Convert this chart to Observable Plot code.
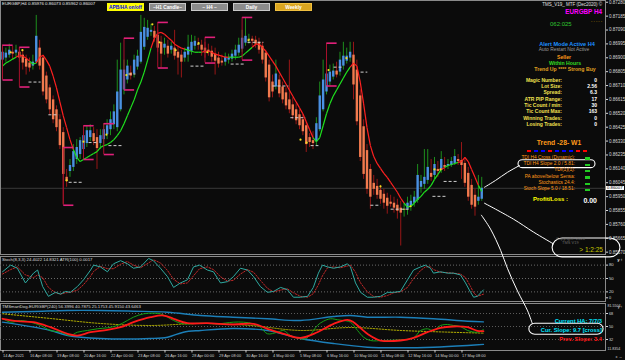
<!DOCTYPE html>
<html><head><meta charset="utf-8">
<script src="https://cdn.jsdelivr.net/npm/d3@7"></script>
<script src="https://cdn.jsdelivr.net/npm/@observablehq/plot@0.6"></script>
<style>
html,body{margin:0;padding:0;background:#000;}
#wrap{position:relative;width:625px;height:360px;overflow:hidden;background:#0b0b0b;font-family:"Liberation Sans",Arial,sans-serif;}
.t{position:absolute;white-space:nowrap;line-height:1;}
.btn{position:absolute;height:8px;box-sizing:border-box;font-weight:bold;font-size:4.8px;line-height:7px;text-align:center;color:#fff;}
</style></head><body><div id="wrap"></div>
<script>
// ================= DATA =================
const priceTicks=[0.87280,0.87185,0.87090,0.86995,0.86900,0.86805,0.86710,0.86615,0.86520,0.86425,0.86330,0.86235,0.86140,0.86045,0.85950,0.85855,0.85760,0.85665,0.85570];
const dateTickIdx=[0,8,16,24,32,40,48,56,64,72,80,88,96,104,112,120,128,136];
const dateLabels=["14 Apr 2021","16 Apr 08:00","19 Apr 08:00","20 Apr 16:00","22 Apr 00:00","23 Apr 08:00","26 Apr 16:00","28 Apr 00:00","29 Apr 08:00","30 Apr 16:00","4 May 00:00","5 May 08:00","6 May 16:00","10 May 00:00","11 May 08:00","12 May 16:00","14 May 00:00","17 May 08:00"];
const lastPrice=0.86007;

const open=[0.86884,0.86898,0.86918,0.86938,0.86932,0.86938,0.86918,0.86891,0.86864,0.86843,
0.86870,0.86966,0.86898,0.86775,0.86694,0.86612,0.86544,0.86476,0.86388,0.86082,
0.86122,0.86150,0.86204,0.86238,0.86272,0.86313,0.86354,0.86381,0.86354,0.86313,
0.86340,0.86374,0.86408,0.86442,0.86422,0.86544,0.86680,0.86748,0.86796,0.86789,
0.86836,0.86870,0.86972,0.87040,0.87074,0.87081,0.87054,0.87006,0.86966,0.86979,
0.86952,0.86966,0.86938,0.86918,0.86898,0.86918,0.86945,0.86979,0.86993,0.86986,
0.86966,0.86952,0.86945,0.86925,0.86898,0.86877,0.86870,0.86884,0.86891,0.86911,
0.86932,0.86959,0.87000,0.87020,0.87027,0.87020,0.87006,0.86979,0.86932,0.86850,
0.86734,0.86700,0.86748,0.86700,0.86660,0.86612,0.86578,0.86544,0.86510,0.86476,
0.86435,0.86354,0.86333,0.86326,0.86408,0.86544,0.86666,0.86734,0.86768,0.86809,
0.86802,0.86843,0.86877,0.86898,0.86918,0.86816,0.86639,0.86428,0.86265,0.86136,
0.86041,0.86020,0.85993,0.85966,0.85939,0.85912,0.85905,0.85891,0.85871,0.85857,
0.85864,0.85884,0.85905,0.85925,0.86014,0.86034,0.86061,0.86109,0.86095,0.86136,
0.86129,0.86163,0.86156,0.86163,0.86177,0.86204,0.86197,0.86177,0.86109,0.86027,
0.85959,0.85918,0.85932];
const close=[0.86938,0.86932,0.86952,0.86925,0.86952,0.86898,0.86864,0.86836,0.86830,0.86870,
0.87047,0.86843,0.86666,0.86612,0.86544,0.86476,0.86422,0.86299,0.86102,0.86054,
0.86163,0.86258,0.86286,0.86333,0.86367,0.86401,0.86401,0.86326,0.86279,0.86367,
0.86408,0.86435,0.86476,0.86530,0.86666,0.86816,0.86816,0.86843,0.86775,0.86884,
0.86911,0.87074,0.87108,0.87102,0.87088,0.87034,0.86966,0.86925,0.86993,0.86925,
0.86979,0.86911,0.86898,0.86870,0.86938,0.86972,0.87006,0.87013,0.86986,0.86952,
0.86932,0.86938,0.86904,0.86877,0.86857,0.86864,0.86904,0.86898,0.86925,0.86952,
0.86986,0.87034,0.87047,0.87027,0.87013,0.86993,0.86952,0.86884,0.86762,0.86626,
0.86666,0.86789,0.86653,0.86612,0.86571,0.86544,0.86503,0.86469,0.86435,0.86394,
0.86306,0.86320,0.86313,0.86449,0.86639,0.86748,0.86789,0.86802,0.86809,0.86782,
0.86884,0.86911,0.86911,0.86938,0.86714,0.86462,0.86218,0.86102,0.86000,0.85946,
0.86000,0.85959,0.85932,0.85905,0.85884,0.85898,0.85871,0.85850,0.85837,0.85864,
0.85905,0.85918,0.85946,0.86095,0.86054,0.86082,0.86150,0.86082,0.86170,0.86122,
0.86204,0.86150,0.86170,0.86190,0.86224,0.86190,0.86163,0.86041,0.85946,0.85891,
0.85878,0.85946,0.86007];
const high=[0.86986,0.86966,0.86993,0.86979,0.86986,0.86966,0.86952,0.86918,0.86898,0.86918,
0.87190,0.87020,0.86918,0.86802,0.86714,0.86639,0.86571,0.86510,0.86422,0.86136,
0.86204,0.86306,0.86340,0.86354,0.86422,0.86435,0.86442,0.86422,0.86408,0.86408,
0.86449,0.86476,0.86530,0.86578,0.86884,0.87000,0.86884,0.86884,0.86843,0.86918,
0.86952,0.87190,0.87170,0.87156,0.87129,0.87115,0.87088,0.87047,0.87034,0.87020,
0.87006,0.87088,0.86979,0.86952,0.86966,0.87054,0.87054,0.87047,0.87034,0.87020,
0.87006,0.86993,0.86979,0.86966,0.86938,0.86918,0.86932,0.86925,0.86952,0.86986,
0.87034,0.87088,0.87176,0.87061,0.87047,0.87047,0.87034,0.87006,0.86952,0.86884,
0.86782,0.86884,0.86782,0.86734,0.86694,0.86884,0.86626,0.86585,0.86544,0.86510,
0.86462,0.86381,0.86394,0.86490,0.86734,0.86884,0.86870,0.86850,0.86857,0.86870,
0.86938,0.87006,0.86966,0.87006,0.87006,0.86884,0.86680,0.86476,0.86306,0.86170,
0.86095,0.86068,0.86027,0.86000,0.85973,0.85959,0.85946,0.85932,0.85918,0.85905,
0.85946,0.85959,0.85986,0.86170,0.86095,0.86272,0.86272,0.86204,0.86218,0.86190,
0.86258,0.86218,0.86204,0.86218,0.86272,0.86238,0.86320,0.86218,0.86150,0.86068,
0.86000,0.86095,0.86082];
const low=[0.86850,0.86870,0.86898,0.86884,0.86904,0.86870,0.86816,0.86782,0.86802,0.86816,
0.86857,0.86816,0.86639,0.86585,0.86510,0.86449,0.86394,0.86272,0.85898,0.86014,
0.86082,0.86122,0.86170,0.86204,0.86258,0.86286,0.86326,0.86299,0.86136,0.86272,
0.86306,0.86340,0.86367,0.86408,0.86394,0.86530,0.86646,0.86721,0.86748,0.86762,
0.86816,0.86857,0.86952,0.87020,0.87047,0.87006,0.86938,0.86830,0.86918,0.86898,
0.86925,0.86884,0.86782,0.86762,0.86870,0.86870,0.86918,0.86952,0.86952,0.86911,
0.86898,0.86911,0.86870,0.86782,0.86830,0.86843,0.86843,0.86857,0.86870,0.86884,
0.86911,0.86938,0.86979,0.86993,0.86979,0.86966,0.86925,0.86857,0.86734,0.86598,
0.86626,0.86680,0.86626,0.86585,0.86544,0.86517,0.86476,0.86442,0.86408,0.86367,
0.86252,0.86286,0.86272,0.86299,0.86394,0.86530,0.86646,0.86707,0.86748,0.86762,
0.86775,0.86816,0.86857,0.86870,0.86612,0.86435,0.86190,0.86068,0.85966,0.85864,
0.85959,0.85932,0.85898,0.85864,0.85830,0.85878,0.85837,0.85796,0.85612,0.85810,
0.85823,0.85850,0.85878,0.85905,0.85973,0.86000,0.86034,0.86054,0.86068,0.86082,
0.86109,0.86122,0.86136,0.86150,0.86163,0.86163,0.86068,0.86014,0.85918,0.85864,
0.85816,0.85891,0.85918];
const haLine=[0.86843,0.86864,0.86877,0.86891,0.86904,0.86918,0.86911,0.86898,0.86877,0.86857,
0.86864,0.86904,0.86918,0.86884,0.86843,0.86775,0.86694,0.86598,0.86503,0.86422,
0.86340,0.86272,0.86218,0.86190,0.86204,0.86218,0.86231,0.86245,0.86258,0.86286,
0.86299,0.86306,0.86320,0.86340,0.86367,0.86401,0.86449,0.86503,0.86558,0.86612,
0.86680,0.86734,0.86802,0.86884,0.86966,0.87034,0.87068,0.87074,0.87061,0.87040,
0.87020,0.86993,0.86979,0.86966,0.86959,0.86952,0.86945,0.86938,0.86938,0.86938,
0.86945,0.86945,0.86938,0.86925,0.86918,0.86911,0.86904,0.86904,0.86904,0.86904,
0.86904,0.86911,0.86932,0.86952,0.86972,0.86993,0.86993,0.86972,0.86945,0.86911,
0.86877,0.86843,0.86802,0.86762,0.86721,0.86680,0.86639,0.86598,0.86558,0.86517,
0.86462,0.86408,0.86354,0.86326,0.86354,0.86435,0.86517,0.86585,0.86639,0.86680,
0.86721,0.86762,0.86802,0.86836,0.86864,0.86843,0.86734,0.86585,0.86422,0.86299,
0.86224,0.86177,0.86143,0.86109,0.86082,0.86048,0.86014,0.85980,0.85939,0.85905,
0.85878,0.85884,0.85905,0.85932,0.85952,0.85980,0.86000,0.86027,0.86068,0.86102,
0.86136,0.86150,0.86163,0.86170,0.86177,0.86184,0.86190,0.86218,0.86190,0.86136,
0.86082,0.86027,0.85986];

// signal brackets, level dashes, dots
const bracketIdx=[0,5,18,24,30,36,46,60,71,96];
const bracketHi=[0.86986,0.86972,0.86286,0.86435,0.86449,0.87034,0.87142,0.87040,0.87176,0.87000];
const bracketLo=[0.86748,0.86700,0.85891,0.86204,0.86238,0.86680,0.86830,0.86864,0.86884,0.86707];
const dashX1=[7.7,13.6,19.6,25.5,31.4,37.3,55.7,67.6,72.6,80,85.3,91.3,98.1,106.1,109,115,127.4,130.7];
const dashX2=[11.3,16.6,23.7,28.4,35.6,39.4,59.6,72,77.3,84.7,89.8,93.6,101,108.1,112,120.9,131.3,134.8];
const dashP=[0.86734,0.86510,0.86048,0.86320,0.86299,0.86789,0.86843,0.86857,0.87006,0.86707,0.86490,0.86299,0.86836,0.86802,0.85891,0.85864,0.85952,0.86054];
const dotX=[2.4,5.9,19,24,30.8,36.7,44.4,46.5,51.3,58.1,60.7,72.9,88.3,90.1,96.6,101.9,112,120.9,128,129.8];
const dotP=[0.86938,0.86952,0.86061,0.86326,0.86374,0.86782,0.87129,0.87006,0.86952,0.87000,0.86938,0.87020,0.86340,0.86320,0.86816,0.86898,0.86020,0.85884,0.86136,0.86136];

// hand-drawn annotations (bar index, price)
const link1X=[142.8,146.1,149.6,153.2], link1P=[0.86014,0.86061,0.86116,0.86163];
const link2X=[142.8,151.4,157.3,163.3], link2P=[0.85905,0.85796,0.85708,0.85626];
const link3X=[141.9,144.6,147.6,149.6,152.6,155.6,157], link3P=[0.85823,0.85728,0.85582,0.85460,0.85304,0.85168,0.85080];
const ringX1=[152.9,163,156.1], ringX2=[175.7,183.1,178.1], ringP1=[0.86199,0.85663,0.85080], ringP2=[0.86145,0.85534,0.85005];

// Stochastic (8,3,3)
const stochIdx=[0,2.4,4.4,6.8,9.2,10.4,11.9,13.6,15.7,17.2,18.7,20.1,22.2,24,26.1,27,29,31.1,32.9,35,37,38.8,40.9,43.3,44.7,46.8,48.9,50.7,52.7,54.8,56.6,58.4,60.7,62.5,64.6,66.7,68.4,70.5,72.6,74.4,76.4,78.5,80.3,82.4,84.4,86.2,88.3,90.4,92.1,93.6,94.8,96.3,98.1,100.1,102.2,103.1,104.6,106.1,108.1,109.9,112,114.1,115.9,117.9,120,121.8,123.9,125.3,126.8,127.7,129.8,131.9,133.6,135.7,137.2,138.7,139.6,140.7,142.5];
const stochMain=[65,80,73,40,62,69,32,10,19,15,21,19,32,47,69,80,76,65,83,90,83,73,76,95,90,73,54,30,40,47,76,80,69,65,40,43,54,73,69,54,32,19,21,30,25,8,8,10,30,62,80,76,73,76,83,76,40,19,8,8,10,19,19,21,47,69,76,80,73,62,65,62,62,58,40,19,8,10,24.4];
const stochSignal=[60,70,76,58,52,58,52,30,18,15,18,19,24,36,55,66,77,72,72,82,88,80,74,85,92,85,68,48,38,40,56,72,76,70,54,44,46,60,70,64,46,28,20,24,27,18,10,8,16,36,56,74,76,74,78,80,64,40,20,10,8,12,18,20,30,50,68,76,76,70,64,63,62,60,52,32,18,10,14.8];
const stochLevels=[80,50,20];
const stochTicks=[80,50,20];

// TMSmartDog
const tmsGreenIdx=[0,2.4,5.3,8.3,11.3,14.2,17.2,20.1,22.2,25.2,28.1,31.1,34.1,37,38.8,41.8,44.7,46.8,48.9,50.7,53.6,58.7,63.7,68.4,71.4,74.4,76.4,78.5,81.5,83.3,85.3,88.3,89.8,91.3,93.3,95.1,97.2,99.3,101,103.1,105.2,107,109,112.9,117.9,121.8,123.9,125.9,127.7,129.8,131.9,133.6,135.7,137.8,140.7,142.5];
const tmsGreen=[61.1,56.0,58.3,56.0,51.4,44.5,42.1,37.5,42.1,44.5,46.8,48.2,51.4,58.3,62.9,67.6,68.4,67.6,62.9,58.3,53.7,54.6,53.7,56.0,56.0,53.7,49.0,39.9,42.1,44.5,37.5,33.0,33.0,39.0,51.4,57.3,60.7,59.3,58.3,56.0,44.5,35.2,30.6,30.6,31.6,34.3,44.5,46.8,44.5,51.4,52.8,51.4,50.0,44.5,42.1,45.9];
const tmsRedIdx=[0,4.4,9.2,14.2,19.3,22.2,26.1,31.1,35,38.8,43.9,47.7,50.7,54.8,60.7,68.4,74.4,78.5,83.3,88.3,93.3,98.1,102.2,104,108.1,112,117.9,121.8,125.9,129.8,133.6,137.8,140.7,142.5];
const tmsRed=[60.7,57.3,56.0,49.0,39.9,37.5,42.1,45.4,49.0,56.0,62.9,65.2,60.7,54.6,54.6,52.8,53.7,46.8,39.9,34.3,42.1,53.7,59.3,56.0,39.9,30.6,30.6,34.3,42.1,48.2,50.0,49.0,44.0,43.6];
const tmsUpperIdx=[0,9.2,19.3,29,38.8,48.9,58.7,68.4,78.5,88.3,98.1,103.1,108.1,117.9,127.7,137.8,142.5];
const tmsUpper=[69.8,70.8,72.2,72.2,71.2,69.8,65.2,62.9,60.7,58.3,63.8,65.2,62.9,62.9,60.7,57.3,56.4];
const tmsLowerIdx=[0,14.2,19.3,29,43.9,48.9,53.6,58.7,68.4,78.5,88.3,98.1,108.1,117.9,127.7,137.8,142.5];
const tmsLower=[56.0,44.5,37.5,33.4,33.4,35.2,42.1,44.5,47.2,44.5,33.4,26.4,21.3,20.5,21.3,23.7,25.2];
const tmsMidIdx=[0,14.2,29,43.9,58.7,73.5,88.3,103.1,117.9,132.7,142.5];
const tmsMid=[67.6,61.1,54.2,51.4,54.2,51.4,44.5,48.6,44.5,42.1,40.8];
const tmsLevels=[68,50,32];
const tmsMax="81.5504", tmsMin="11.8354";

// ================= BUILD =================
const wrap=document.getElementById("wrap");
const FONT="'Liberation Sans',Arial,sans-serif";
const X={domain:[-0.593,178.67],range:[0,605]};
const bars=open.map((o,i)=>({i,o,c:close[i],h:high[i],l:low[i]}));
const bodyCol=d=>Math.abs(d.c-d.o)<0.00008?"#d8c850":(d.c>d.o?"#4a90e2":"#f27a4e");
const wickCol=d=>d.c>=d.o?"#1f9e1f":"#a81818";
const maSeg=d3.range(haLine.length-1).map(i=>({x1:i,y1:haLine[i],x2:i+1,y2:haLine[i+1],
  col: close[i+1]>haLine[i+1]?"#1fe01f":"#ff2020"}));
const br=bracketIdx.map((x,k)=>({x,hi:bracketHi[k],lo:bracketLo[k]}));
const dashes=dashX1.map((x,k)=>({x1:x,x2:dashX2[k],p:dashP[k]}));
const dots=dotX.map((x,k)=>({x,p:dotP[k]}));
const toPts=(xs,ys)=>xs.map((x,k)=>({x,y:ys[k]}));

function place(svg,top,z){svg.style.position="absolute";svg.style.top=top+"px";svg.style.left="0px";svg.style.zIndex=z;wrap.appendChild(svg);return svg;}

const ringMark=(k,r)=>Plot.rect([k],{x1:d=>ringX1[d],x2:d=>ringX2[d],y1:d=>ringP1[d],y2:d=>ringP2[d],rx:r,fill:"none",stroke:"#fff",strokeWidth:1.1});

const main=Plot.plot({
  width:625,height:254,marginLeft:0,marginRight:20,marginTop:0,marginBottom:0,
  style:{background:"transparent",overflow:"visible",fontFamily:FONT},
  x:{...X,axis:null},
  y:{domain:[0.85554,0.87292],range:[254,0],axis:null},
  marks:[
    Plot.ruleY([lastPrice],{stroke:"#3a3a3a"}),
    Plot.ruleX(bars,{x:"i",y1:"l",y2:"h",stroke:wickCol,strokeWidth:0.9}),
    Plot.ruleX(bars,{x:"i",y1:"o",y2:d=>Math.abs(d.c-d.o)<0.00004?d.o+0.00006:d.c,stroke:bodyCol,strokeWidth:2.4}),
    Plot.link(maSeg,{x1:"x1",y1:"y1",x2:"x2",y2:"y2",stroke:"col",strokeWidth:1.2}),
    Plot.ruleX(br,{x:"x",y1:"lo",y2:"hi",stroke:"#a8102c",strokeWidth:1}),
    Plot.link(br,{x1:"x",x2:d=>d.x+3,y1:"hi",y2:"hi",stroke:"#e0207a",strokeWidth:1.6}),
    Plot.link(br,{x1:"x",x2:d=>d.x+3,y1:"lo",y2:"lo",stroke:"#e0207a",strokeWidth:1.6}),
    Plot.link(dashes,{x1:"x1",x2:"x2",y1:"p",y2:"p",stroke:"#d0d0d0",strokeWidth:1,strokeDasharray:"3,2"}),
    Plot.dot(dots,{x:"x",y:"p",r:1.1,fill:"#f0e020",stroke:null}),
    Plot.frame({stroke:"#8a8a8a"}),
    Plot.axisY(priceTicks,{anchor:"right",tickSize:2,tickPadding:1.5,fontSize:4.5,color:"#d8d8d8",tickFormat:d=>d.toFixed(5)}),
    Plot.line(toPts(link1X,link1P),{x:"x",y:"y",curve:"catmull-rom",stroke:"#fff",strokeWidth:1}),
    Plot.line(toPts(link2X,link2P),{x:"x",y:"y",curve:"catmull-rom",stroke:"#fff",strokeWidth:1}),
    Plot.line(toPts(link3X,link3P),{x:"x",y:"y",curve:"catmull-rom",stroke:"#fff",strokeWidth:1}),
    ringMark(0,4),ringMark(1,10),ringMark(2,6)
  ]
});
place(main,0,3);

const stoch=Plot.plot({
  width:625,height:47,marginLeft:0,marginRight:20,marginTop:1,marginBottom:1,
  style:{background:"transparent",overflow:"visible",fontFamily:FONT},
  x:{...X,axis:null},
  y:{domain:[0,100],range:[45.3,0.7],axis:null},
  marks:[
    Plot.frame({stroke:"#8a8a8a"}),
    Plot.ruleY(stochLevels,{stroke:"#6a6a6a",strokeDasharray:"1,2"}),
    Plot.line(toPts(stochIdx,stochSignal),{x:"x",y:"y",stroke:"#c02828",strokeWidth:1,strokeDasharray:"1.5,1.5"}),
    Plot.line(toPts(stochIdx,stochMain),{x:"x",y:"y",stroke:"#2fa9a0",strokeWidth:1}),
    Plot.axisY(stochTicks,{anchor:"right",tickSize:2,tickPadding:1.5,fontSize:4.2,color:"#d8d8d8"}),
    Plot.axisY([0],{anchor:"right",tickSize:2,tickPadding:1.5,fontSize:3.8,color:"#d8d8d8",dy:-3})
  ]
});
place(stoch,255,1);

const tms=Plot.plot({
  width:625,height:58,marginLeft:0,marginRight:20,marginTop:1,marginBottom:10,
  style:{background:"transparent",overflow:"visible",fontFamily:FONT},
  x:{...X,axis:null},
  y:{domain:[32,68],range:[37,11],axis:null},
  marks:[
    Plot.frame({stroke:"#8a8a8a"}),
    Plot.ruleY(tmsLevels,{stroke:"#5a5a5a",strokeDasharray:"1,2"}),
    Plot.line(toPts(tmsUpperIdx,tmsUpper),{x:"x",y:"y",curve:"catmull-rom",stroke:"#1c7fb8",strokeWidth:1.4}),
    Plot.line(toPts(tmsLowerIdx,tmsLower),{x:"x",y:"y",curve:"catmull-rom",stroke:"#1c7fb8",strokeWidth:1.4}),
    Plot.line(toPts(tmsMidIdx,tmsMid),{x:"x",y:"y",curve:"catmull-rom",stroke:"#c8c400",strokeWidth:0.9,strokeDasharray:"1.5,1.5"}),
    Plot.line(toPts(tmsGreenIdx,tmsGreen),{x:"x",y:"y",curve:"catmull-rom",stroke:"#16a016",strokeWidth:1}),
    Plot.line(toPts(tmsRedIdx,tmsRed),{x:"x",y:"y",curve:"catmull-rom",stroke:"#ff1a1a",strokeWidth:1.8}),
    Plot.axisY(tmsLevels,{anchor:"right",tickSize:2,tickPadding:1.5,fontSize:3.8,color:"#d8d8d8"}),
    Plot.text([tmsMax],{frameAnchor:"top-right",lineAnchor:"top",textAnchor:"start",dx:2,dy:1,fontSize:3.6,fill:"#d8d8d8"}),
    Plot.text([tmsMin],{frameAnchor:"bottom-right",lineAnchor:"bottom",textAnchor:"start",dx:2,dy:-0.5,fontSize:3.6,fill:"#d8d8d8"}),
    Plot.axisX(dateTickIdx,{anchor:"bottom",tickSize:2.5,tickPadding:1.5,fontSize:3.9,color:"#d0d0d0",textAnchor:"start",dx:0.5,tickFormat:d=>dateLabels[dateTickIdx.indexOf(d)]})
  ]
});
place(tms,302,1);

// ================= TEXT OVERLAY =================
function T(txt,x,y,o={}){
  const d=document.createElement("div");d.className="t";d.textContent=txt;
  d.style.fontSize=(o.s||5)+"px";d.style.color=o.c||"#ddd";d.style.fontWeight=o.b?"bold":"normal";
  d.style.top=y+"px";d.style.zIndex=5;
  if(o.a==="end"){d.style.right=(625-x)+"px";}
  else if(o.a==="middle"){d.style.left=x+"px";d.style.transform="translateX(-50%)";}
  else d.style.left=x+"px";
  wrap.appendChild(d);return d;
}
function B(txt,x,w,bg,fg,border){
  const d=document.createElement("div");d.className="btn";d.textContent=txt;
  Object.assign(d.style,{left:x+"px",top:"2.5px",width:w+"px",background:bg,color:fg,border:"1px solid "+border,zIndex:5});
  wrap.appendChild(d);
}
T("EURGBP,H4  0.85976 0.86073 0.85962 0.86007",2,2,{s:4.4,c:"#e8e8e8"});
B("APB/HA on/off",107,37,"#ffff00","#0000ff","#ffff00");
B("~H1 Candle~",149,37,"#8c8c8c","#fff","#c8c8c8");
B("~ H4 ~",191,37,"#8c8c8c","#fff","#c8c8c8");
B("Daily",233,37,"#8c8c8c","#fff","#c8c8c8");
B("Weekly",275,37,"#daa520","#fff","#f0c040");

T("TMS_V19_ MTF (Dec2020) ©",602,2.5,{s:4.5,c:"#e0e0e0",a:"end"});
T("EURGBP H4",602,9,{s:6.3,c:"#ff00ff",b:1,a:"end"});
T("062:025",550,20.5,{s:6,c:"#2fc42f"});
T("- - - - -",591,18.5,{s:4,c:"#e0c000"});
T("Alert Mode Active H4",567,41.5,{s:5.6,c:"#1e90ff",b:1,a:"middle"});
T("Auto Restart Not Active",564,48,{s:4.9,c:"#9a9a9a",a:"middle"});
T("Seller",564,54.5,{s:5.2,c:"#ff9a1a",b:1,a:"middle"});
T("Within Hours",565,60.5,{s:5.2,c:"#33dd22",b:1,a:"middle"});
T("Trend Up **** Strong Buy",565,66.5,{s:5.2,c:"#e0a020",b:1,a:"middle"});
const statL=["Magic Number:","Lot Size:","Spread:","ATR PIP Range:","Tic Count / min:","Tic Count Max:","Winning Trades:","Losing Trades:"];
const statV=["0","2.56","6.3","17","30","163","0","0"];
statL.forEach((s,k)=>{T(s,562,77.5+k*6.35,{s:5,c:"#f0e050",b:1,a:"end"});T(statV[k],597,77.5+k*6.35,{s:5,c:"#fff",b:1,a:"end"});});
T("Trend -28- W1",559,139.5,{s:6.8,c:"#ff9a1a",b:1,a:"middle"});
const trendCols=["#ff0000","#0000ff","#0000ff","#ff0000","#0000ff","#0000ff","#0000ff","#ff0000","#ff0000"];
trendCols.forEach((c,k)=>{const d=document.createElement("div");Object.assign(d.style,{position:"absolute",left:(527+k*7)+"px",top:"149.5px",width:"4px",height:"2px",background:c,zIndex:5});wrap.appendChild(d);});
const indL=["TDI H4 Cross (Dynamic):","TDI H4 Slope 2.0 / 5.81:","TDI(1)(1):","PA above/below Sensa:","Stochastics 24.4:","Stoch Slope 5.0 / 18.51:"];
indL.forEach((s,k)=>{T(s,575,155.8+k*6.3,{s:4.8,c:"#ff9a1a",a:"end"});
  const d=document.createElement("div");Object.assign(d.style,{position:"absolute",left:"585px",top:(157.3+k*6.3)+"px",width:"5px",height:"2.5px",background:"#22cc22",zIndex:5});wrap.appendChild(d);});
T("Profit/Loss :",533,196,{s:6,c:"#ffff00",b:1});
T("0.00",597,197,{s:7,c:"#fff",b:1,a:"end"});
T("Copyright©2020",556,236.5,{s:4,c:"#6a6a6a"});
T("TMS V19",562,241,{s:4,c:"#6a6a6a"});
T(">  1:2:25",603,246.5,{s:6.5,c:"#c8c800",a:"end"});
T("Stoch(8,3,3) 24.4022 14.8321  ATR(100) 0.0017",2,257.5,{s:4.3,c:"#dcdcdc"});
T("TMSmartDog-EURGBP(240) 56.3996 40.7875 25.1753 45.9150 43.6463",2,304.5,{s:4.3,c:"#dcdcdc"});
T("Current HA: 7/7/3",602,319,{s:5.8,c:"#00e5ff",b:1,a:"end"});
T("Cur. Slope: 9.7 [cross]",602,328,{s:5.8,c:"#00e5ff",b:1,a:"end"});
T("Prev. Slope: 3.4",602,336.5,{s:5.8,c:"#ff1a1a",b:1,a:"end"});
// current price box on price axis
const py=main.scale("y").apply(lastPrice);
const pb=T(lastPrice.toFixed(5),606,py-2.2,{s:4.3,c:"#000"});
Object.assign(pb.style,{background:"#fff",padding:"0 1px",lineHeight:"4.6px",height:"4.6px"});
</script></body></html>
